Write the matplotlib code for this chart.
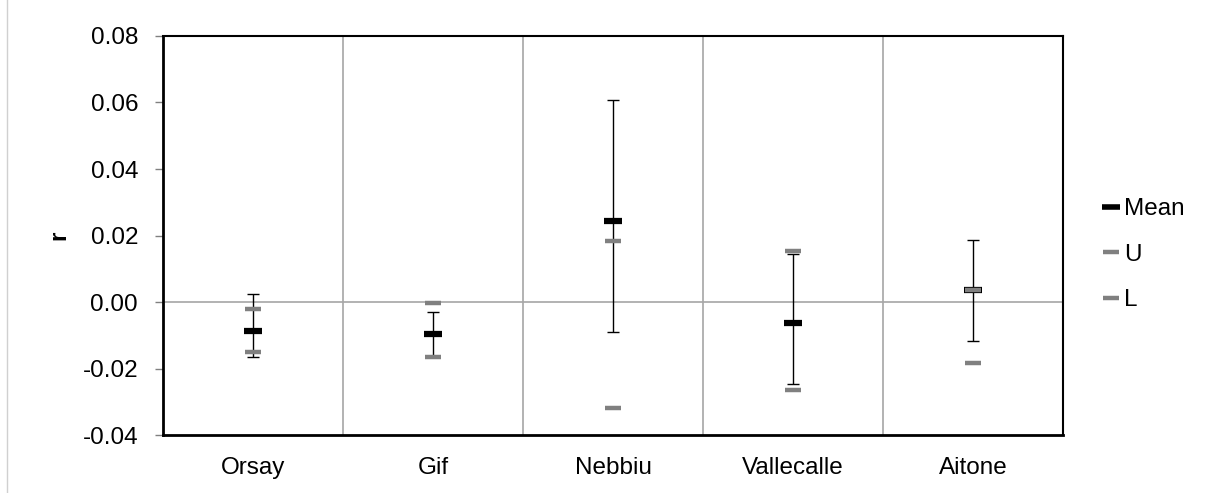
import numpy as np
import matplotlib
matplotlib.use("Agg")
import matplotlib.pyplot as plt
from matplotlib.lines import Line2D

plt.rcParams["font.family"] = ["Liberation Sans", "DejaVu Sans"]

# data
sites = ["Orsay", "Gif", "Nebbiu", "Vallecalle", "Aitone"]
mean = [-0.0088, -0.0096, 0.0244, -0.0062, 0.0035]
upper = [-0.0021, -0.0002, 0.0184, 0.0152, 0.0035]
lower = [-0.0149, -0.0164, -0.0320, -0.0264, -0.0184]
bar_top = [0.0024, -0.0030, 0.0608, 0.0144, 0.0186]
bar_bot = [-0.0166, -0.0164, -0.0089, -0.0248, -0.0116]
yticks = [-0.04, -0.02, 0.00, 0.02, 0.04, 0.06, 0.08]

fs = 17.5
x = np.arange(len(sites))
m = np.array(mean)
yerr = [m - np.array(bar_bot), np.array(bar_top) - m]

fig = plt.figure(figsize=(12.12, 4.93), dpi=100)
ax = fig.add_axes([0.1345, 0.1176, 0.7425, 0.8094])

# faint frame line at the far left of the original image
fig.add_artist(Line2D([0.006, 0.006], [0, 1], transform=fig.transFigure,
                      color="#d0d0d0", lw=1))

# category separators and zero line
for b in np.arange(0.5, len(sites) - 0.5, 1):
    ax.axvline(b, color="#a6a6a6", lw=1.2, zorder=0)
ax.axhline(0, color="#a6a6a6", lw=1.2, zorder=0)

ax.errorbar(x, m, yerr=yerr, fmt="none", ecolor="black", elinewidth=1.0,
            capsize=4.5, capthick=1.0, zorder=2)
ax.plot(x, m, ls="none", marker="_", ms=13.5, mew=4.5, color="black", zorder=3)
ax.plot(x, upper, ls="none", marker="_", ms=11, mew=3.2, color="#808080", zorder=4)
ax.plot(x, lower, ls="none", marker="_", ms=11, mew=3.2, color="#808080", zorder=4)

ax.set_xlim(-0.5, len(sites) - 0.5)
ax.set_ylim(-0.04, 0.08)
ax.set_yticks(yticks)
ax.set_yticklabels([f"{v:.2f}" for v in yticks])
ax.set_xticks(x)
ax.set_xticklabels(sites)
ax.tick_params(axis="x", length=0, pad=16, labelsize=fs)
ax.tick_params(axis="y", length=6, width=1, color="#808080", pad=12, labelsize=fs)

for s in ax.spines.values():
    s.set_linewidth(1.5)
ax.spines["left"].set_linewidth(2)
ax.spines["bottom"].set_linewidth(2)

ax.set_ylabel("r", fontsize=fs, fontweight="bold")
ax.yaxis.set_label_coords(-0.103, 0.5)

handles = [
    Line2D([], [], ls="none", marker="_", ms=12.5, mew=4, color="black"),
    Line2D([], [], ls="none", marker="_", ms=11.5, mew=3.2, color="#808080"),
    Line2D([], [], ls="none", marker="_", ms=11.5, mew=3.2, color="#808080"),
]
fig.legend(handles, ["Mean", "U", "L"], loc="center left",
           bbox_to_anchor=(0.9084, 0.483), frameon=False, fontsize=fs,
           handlelength=0.8, handletextpad=0.15, labelspacing=0.97,
           borderaxespad=0, borderpad=0)

fig.savefig("out.png", dpi=100)
